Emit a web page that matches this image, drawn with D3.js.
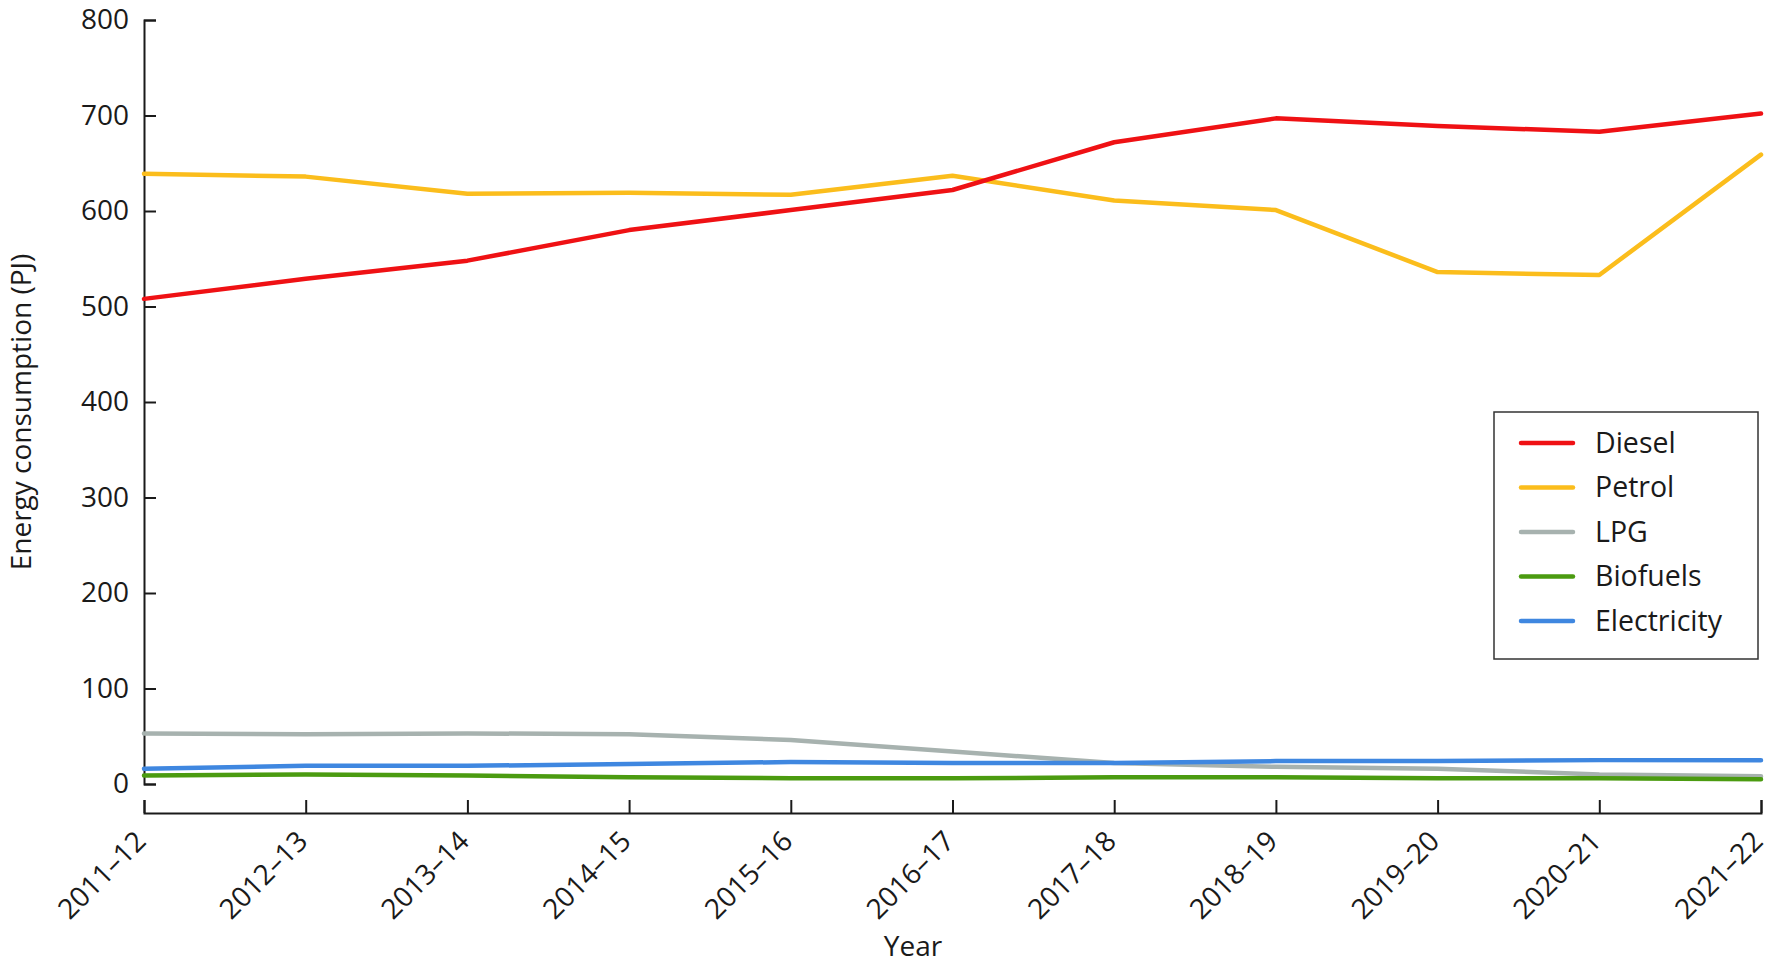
<!DOCTYPE html>
<html>
<head>
<meta charset="utf-8">
<script src="https://cdnjs.cloudflare.com/ajax/libs/d3/7.8.5/d3.min.js"></script>
<style>
  body { margin: 0; background: #fff; }
  svg { display: block; font-family: "Open Sans", sans-serif; }
  .axis path, .axis line { stroke: #1a1a1a; stroke-width: 2; }
  .axis text { fill: #1a1a1a; font-size: 28px; font-family: "Open Sans", sans-serif; }
  .series { fill: none; stroke-width: 4.5; stroke-linejoin: round; stroke-linecap: round; }
</style>
</head>
<body>
<svg id="chart"></svg>
<script>
// Data
var years = ["2011–12", "2012–13", "2013–14", "2014–15", "2015–16", "2016–17",
  "2017–18", "2018–19", "2019–20", "2020–21", "2021–22"];
var diesel = [508, 529, 548, 580, 601, 622, 672, 697, 689, 683, 702];
var petrol = [639, 636, 618, 619, 617, 637, 611, 601, 536, 533, 659];
var lpg = [53, 52, 53, 52, 46, 34, 22, 18, 16, 10, 8];
var biofuels = [9, 10, 9, 7, 6, 6, 7, 7, 6, 6, 5];
var electricity = [16, 19, 19, 21, 23, 22, 22, 24, 24, 25, 25];
var yTicks = [0, 100, 200, 300, 400, 500, 600, 700, 800];

var seriesNames = ["Diesel", "Petrol", "LPG", "Biofuels", "Electricity"];
var seriesValues = [diesel, petrol, lpg, biofuels, electricity];
var seriesColors = ["#ef1114", "#fbbd1c", "#a7b2af", "#4b9b10", "#3f87e0"];

var width = 1775;
var height = 966;
var margin = { top: 20, right: 14, bottom: 182, left: 144 };

var svg = d3.select("#chart")
    .attr("width", width)
    .attr("height", height);

var x = d3.scalePoint()
    .domain(years)
    .range([margin.left, width - margin.right]);

var y = d3.scaleLinear()
    .domain([0, 800])
    .range([height - margin.bottom, margin.top]);

// y axis, ticks pointing inward
svg.append("g")
    .attr("class", "axis")
    .attr("transform", "translate(" + margin.left + ",0)")
    .call(d3.axisLeft(y).tickValues(yTicks).tickSize(-12).tickPadding(15))
    .attr("font-family", null)
    .attr("font-size", null);

// x axis sits a bit below the zero line
var xAxisY = y(0) + 29;
var xAxis = svg.append("g")
    .attr("class", "axis")
    .attr("transform", "translate(0," + xAxisY + ")")
    .call(d3.axisBottom(x).tickSize(-13).tickPadding(0))
    .attr("font-family", null)
    .attr("font-size", null);

xAxis.selectAll("text")
    .attr("y", 0)
    .attr("dy", 0)
    .attr("text-anchor", "end")
    .attr("transform", "translate(3,30) rotate(-45)");

// axis titles
svg.append("text")
    .attr("transform", "translate(31," + (y(400) + 10) + ") rotate(-90)")
    .attr("text-anchor", "middle")
    .style("font-size", "28px")
    .style("fill", "#1a1a1a")
    .text("Energy consumption (PJ)");

svg.append("text")
    .attr("x", 913)
    .attr("y", 956)
    .attr("text-anchor", "middle")
    .style("font-size", "28px")
    .style("fill", "#1a1a1a")
    .text("Year");

// lines
var line = d3.line()
    .x(function (d, i) { return x(years[i]); })
    .y(function (d) { return y(d); });

// draw bottom series first so the big ones sit on top
[2, 4, 3, 1, 0].forEach(function (k) {
    svg.append("path")
        .datum(seriesValues[k])
        .attr("class", "series")
        .attr("stroke", seriesColors[k])
        .attr("d", line);
});

// legend
var legend = svg.append("g")
    .attr("transform", "translate(1494,412)");

legend.append("rect")
    .attr("width", 264)
    .attr("height", 247)
    .attr("fill", "#fff")
    .attr("stroke", "#333")
    .attr("stroke-width", 1.5);

seriesNames.forEach(function (name, i) {
    var row = legend.append("g")
        .attr("transform", "translate(0," + (31 + i * 44.5) + ")");
    row.append("line")
        .attr("x1", 27)
        .attr("x2", 79)
        .attr("stroke", seriesColors[i])
        .attr("stroke-width", 4.5)
        .attr("stroke-linecap", "round");
    row.append("text")
        .attr("x", 101)
        .attr("dy", "0.35em")
        .style("font-size", "28.5px")
        .style("fill", "#1a1a1a")
        .text(name);
});
</script>
</body>
</html>
